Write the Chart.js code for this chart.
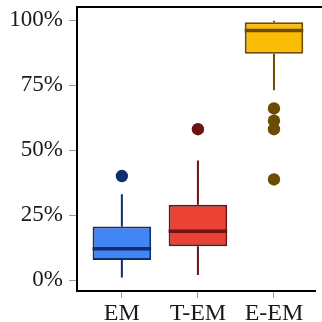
<!DOCTYPE html>
<html>
<head>
<meta charset="utf-8">
<script src="https://cdn.jsdelivr.net/npm/chart.js@4.4.1/dist/chart.umd.min.js"></script>
<style>
  html, body { margin: 0; padding: 0; background: #fff; }
  #wrap { width: 322px; height: 322px; }
</style>
</head>
<body>
<div id="wrap"><canvas id="box_chart" width="322" height="322"></canvas></div>
<script>
var groups = ["EM", "T-EM", "E-EM"];
var whiskerLow = [1, 2, 73];
var q1 = [7.7, 13, 87];
var median = [12, 18.8, 96];
var q3 = [20.6, 29, 99.1];
var whiskerHigh = [33, 46, 99.7];
var outliers = [[40], [58], [66, 61.3, 58, 38.7]];
var yTicks = [0, 25, 50, 75, 100];

var fill = ["#4285F4", "#EA4335", "#FBBC05"];
var edge = ["#0E2F6B", "#6E1212", "#6B4C00"];

var boxData = groups.map(function (g, i) { return { x: i, y: [q1[i], q3[i]] }; });
var outData = [], outColor = [];
outliers.forEach(function (list, i) {
  list.forEach(function (v) { outData.push({ x: i, y: v }); outColor.push(edge[i]); });
});

var serif = "'Liberation Serif', 'DejaVu Serif', serif";

function noPad(s) {
  s.paddingTop = 0; s.paddingBottom = 0; s.paddingLeft = 0; s.paddingRight = 0;
}

var boxLines = {
  id: 'boxLines',
  beforeDatasetsDraw: function (chart) {
    var ctx = chart.ctx, xs = chart.scales.x, ys = chart.scales.y;
    ctx.save();
    ctx.lineWidth = 2;
    groups.forEach(function (g, i) {
      var px = xs.getPixelForValue(i);
      ctx.strokeStyle = edge[i];
      ctx.beginPath();
      ctx.moveTo(px, ys.getPixelForValue(whiskerLow[i]));
      ctx.lineTo(px, ys.getPixelForValue(q1[i]));
      ctx.moveTo(px, ys.getPixelForValue(q3[i]));
      ctx.lineTo(px, ys.getPixelForValue(whiskerHigh[i]));
      ctx.stroke();
    });
    ctx.restore();
  },
  afterDatasetsDraw: function (chart) {
    var ctx = chart.ctx, ys = chart.scales.y;
    var bars = chart.getDatasetMeta(0).data;
    ctx.save();
    ctx.lineWidth = 3.5;
    groups.forEach(function (g, i) {
      var b = bars[i];
      var py = ys.getPixelForValue(median[i]);
      ctx.strokeStyle = edge[i];
      ctx.beginPath();
      ctx.moveTo(b.x - b.width / 2, py);
      ctx.lineTo(b.x + b.width / 2, py);
      ctx.stroke();
    });
    // top frame line
    var a = chart.chartArea;
    ctx.strokeStyle = "#000";
    ctx.lineWidth = 2;
    ctx.beginPath();
    ctx.moveTo(a.left - 1, a.top);
    ctx.lineTo(chart.width, a.top);
    ctx.stroke();
    ctx.restore();
  }
};

new Chart(document.getElementById("box_chart"), {
  type: 'bar',
  data: {
    datasets: [
      {
        type: 'bar',
        data: boxData,
        backgroundColor: fill,
        borderColor: edge,
        borderWidth: 2,
        borderSkipped: false,
        categoryPercentage: 1,
        barPercentage: 0.77,
        order: 2
      },
      {
        type: 'scatter',
        data: outData,
        pointBackgroundColor: outColor,
        pointBorderWidth: 0,
        pointRadius: 6.2,
        order: 1
      }
    ]
  },
  plugins: [boxLines],
  options: {
    responsive: false,
    animation: false,
    layout: { padding: { top: 7, right: 0, left: 0, bottom: 0 } },
    plugins: { legend: { display: false }, tooltip: { enabled: false } },
    scales: {
      x: {
        type: 'linear',
        offset: false,
        min: -0.59,
        max: 2.55,
        afterBuildTicks: function (s) { s.ticks = groups.map(function (g, i) { return { value: i }; }); },
        afterFit: function (s) { s.height = 31; noPad(s); },
        ticks: {
          callback: function (v) { return groups[v]; },
          font: { family: serif, size: 24 },
          color: "#1a1a1a",
          padding: 1,
          maxRotation: 0,
          autoSkip: false
        },
        grid: { offset: false, drawOnChartArea: false, drawTicks: true, tickLength: 7, color: "#999", lineWidth: 1 },
        border: { display: true, color: "#000", width: 2 }
      },
      y: {
        min: -4.2,
        max: 105,
        afterBuildTicks: function (s) { s.ticks = yTicks.map(function (v) { return { value: v }; }); },
        afterFit: function (s) { s.width = 77; noPad(s); },
        ticks: {
          callback: function (v) { return v + "%"; },
          font: { family: serif, size: 23 },
          color: "#1a1a1a",
          padding: 6
        },
        grid: { drawOnChartArea: false, drawTicks: true, tickLength: 8, color: "#999", lineWidth: 1 },
        border: { display: true, color: "#000", width: 2 }
      }
    }
  }
});
</script>
</body>
</html>
